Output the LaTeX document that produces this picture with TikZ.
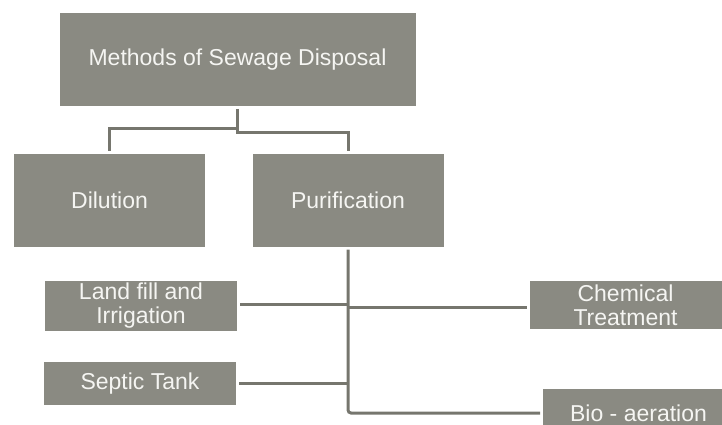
\documentclass[tikz,border=0pt]{standalone}
\usepackage{fontspec}
\setmainfont{Liberation Sans}
\definecolor{boxgray}{RGB}{138,138,130}
\definecolor{linegray}{RGB}{118,118,110}
\definecolor{txt}{RGB}{245,245,242}
\begin{document}
\begin{tikzpicture}[x=1pt,y=-1pt,
  box/.style={rectangle, fill=boxgray, text=txt, inner sep=0pt, outer sep=3pt, align=center, font=\fontsize{23}{24}\selectfont},
  bigbox/.style={box, minimum width=356pt, minimum height=93pt},
  midbox/.style={box, minimum width=191pt, minimum height=93pt},
  smallbox/.style={box, minimum width=192pt},
  conn/.style={draw=linegray, line width=3pt}]
\useasboundingbox (0,0) rectangle (722,425);
\begin{scope}
\clip (0,0) rectangle (722,425);
\node[bigbox] (top) at (237.5,59.5) {Methods of Sewage Disposal};
\node[midbox] (dil) at (109.5,200) {Dilution};
\node[midbox] (pur) at (348,200) {Purification};
\node[smallbox, minimum height=50pt] (land) at (141,306) {Land fill and\\Irrigation};
\node[smallbox, minimum height=48pt] (chem) at (625.5,305) {Chemical\\Treatment};
\node[smallbox, minimum height=43pt] (sep) at (140,383.5) {Septic Tank};
\node[smallbox, minimum width=191pt, minimum height=48pt] (bio) at (638.5,413) {Bio - aeration};
\coordinate (jl) at (237.5,128);
\coordinate (jr) at (237.5,132);
\coordinate (t1) at (348,304);
\coordinate (t2) at (348,307);
\draw[conn] (top.south) -- (jr) -| (pur.north);
\draw[conn] (jl) -| (dil.north);
\draw[conn, rounded corners=3pt] (pur.south) |- (bio.west);
\draw[conn] (land.east |- t1) -- (t1);
\draw[conn] (t2) -- (chem.west |- t2);
\draw[conn] (sep.east) -- (sep.east -| pur.south);
\end{scope}
\end{tikzpicture}
\end{document}
